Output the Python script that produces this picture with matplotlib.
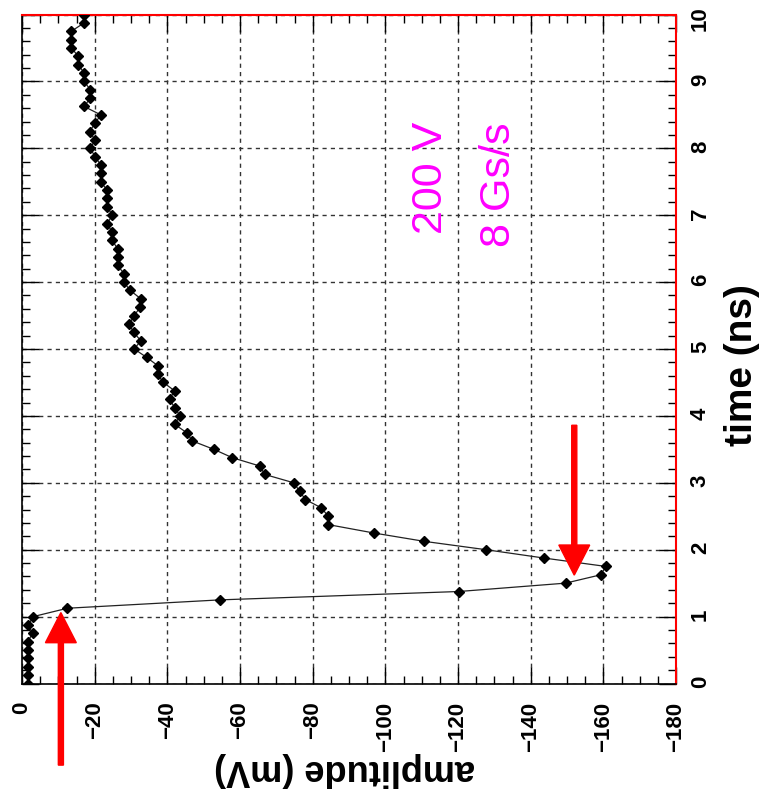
import matplotlib
matplotlib.use("Agg")
import matplotlib.pyplot as plt
import numpy as np

# ---- data ----
time_ns = [0.0, 0.125, 0.25, 0.375, 0.5, 0.625, 0.75, 0.875, 1.0, 1.125,
           1.25, 1.375, 1.5, 1.625, 1.75, 1.875, 2.0, 2.125, 2.25, 2.375,
           2.5, 2.625, 2.75, 2.875, 3.0, 3.125, 3.25, 3.375, 3.5, 3.625,
           3.75, 3.875, 4.0, 4.125, 4.25, 4.375, 4.5, 4.625, 4.75, 4.875,
           5.0, 5.125, 5.25, 5.375, 5.5, 5.625, 5.75, 5.875, 6.0, 6.125,
           6.25, 6.375, 6.5, 6.625, 6.75, 6.875, 7.0, 7.125, 7.25, 7.375,
           7.5, 7.625, 7.75, 7.875, 8.0, 8.125, 8.25, 8.375, 8.5, 8.625,
           8.75, 8.875, 9.0, 9.125, 9.25, 9.375, 9.5, 9.625, 9.75, 9.875, 10.0]
amplitude_mV = [-1.6, -1.7, -1.7, -1.6, -1.7, -1.6, -2.9, -1.7, -3.1, -12.5,
                -54.5, -120.2, -149.6, -159.3, -160.7, -143.7, -127.7, -110.7, -96.8, -84.3,
                -84.3, -82.4, -78.0, -76.4, -74.8, -66.8, -65.5, -57.9, -52.8, -46.9,
                -45.3, -42.0, -43.5, -42.0, -40.6, -42.0, -38.9, -37.3, -37.4, -34.3,
                -30.9, -32.7, -30.7, -29.5, -30.9, -32.5, -32.7, -29.8, -28.0, -28.1,
                -26.3, -26.3, -26.3, -24.8, -24.8, -23.4, -24.9, -23.4, -23.4, -23.4,
                -21.7, -21.7, -21.7, -20.1, -18.8, -20.1, -18.6, -20.1, -21.7, -17.1,
                -18.8, -18.8, -17.1, -17.1, -15.5, -15.5, -13.6, -13.6, -13.6, -17.1, -17.1]

amp_ticks = [0, -20, -40, -60, -80, -100, -120, -140, -160, -180]
amp_tick_labels = ["0", "\u221220", "\u221240", "\u221260", "\u221280", "\u2212100",
                   "\u2212120", "\u2212140", "\u2212160", "\u2212180"]
time_ticks = [0, 1, 2, 3, 4, 5, 6, 7, 8, 9, 10]
time_tick_labels = ["0", "1", "2", "3", "4", "5", "6", "7", "8", "9", "10"]

# arrows: (amplitude, tail time, tip time)
arrow_up = (-10.7, -1.22, 1.06)
arrow_down = (-152.0, 3.86, 1.62)

plt.rcParams['font.family'] = ['Liberation Sans', 'DejaVu Sans']

fig = plt.figure(figsize=(7.60, 8.01), dpi=100)
fig.patch.set_facecolor('white')
ax = fig.add_axes([22/760, (801-683.5)/801, (676-22)/760, (683.5-14.5)/801])

ax.plot(amplitude_mV, time_ns, '-', color='#222222', lw=0.9,
        marker='D', ms=4.8, mfc='black', mec='black', zorder=3)

ax.set_xlim(0, -180)
ax.set_ylim(0, 10)

ax.set_xticks(amp_ticks)
ax.set_xticklabels(amp_tick_labels, rotation=90, fontsize=16, fontweight='bold')
ax.set_xticks(np.arange(0, -181, -5), minor=True)
ax.set_yticks(time_ticks)
ax.set_yticklabels(time_tick_labels, rotation=90, fontsize=16, fontweight='bold')
ax.set_yticks(np.arange(0, 10.01, 0.2), minor=True)

ax.tick_params(axis='x', which='both', direction='in', top=True, bottom=True,
               labelbottom=True, labeltop=False)
ax.tick_params(axis='y', which='both', direction='in', left=True, right=True,
               labelleft=False, labelright=True)
ax.tick_params(axis='x', which='major', length=12, width=1, pad=13)
ax.tick_params(axis='y', which='major', length=12, width=1, pad=10)
ax.tick_params(which='minor', length=6, width=1)

ax.grid(True, which='major', linestyle=(0, (3, 3)), color='#333333', lw=1.0)
ax.set_axisbelow(True)

for s in ['left', 'bottom']:
    ax.spines[s].set_color('black')
    ax.spines[s].set_linewidth(1.2)
for s in ['top', 'right']:
    ax.spines[s].set_color('red')
    ax.spines[s].set_linewidth(1.5)

# red arrows
for (xa, t0, t1) in [arrow_up, arrow_down]:
    ax.arrow(xa, t0, 0, t1 - t0, width=1.4, head_width=8.5, head_length=0.45,
             length_includes_head=True, color='red', ec='red', clip_on=False, zorder=5)

# annotation text
ax.text(-112.6, 7.56, "200 V", rotation=90, color='#ff00ff', fontsize=31,
        ha='center', va='center')
ax.text(-131.3, 7.45, "8 Gs/s", rotation=90, color='#ff00ff', fontsize=31,
        ha='center', va='center')

# axis titles
fig.text(345/760, 1 - 770/801, "amplitude (mV)", rotation=180, fontsize=26,
         fontweight='bold', ha='center', va='center')
fig.text(742/760, 1 - 365/801, "time (ns)", rotation=90, fontsize=28,
         fontweight='bold', ha='center', va='center')

fig.savefig("out.png", dpi=100, facecolor='white')
